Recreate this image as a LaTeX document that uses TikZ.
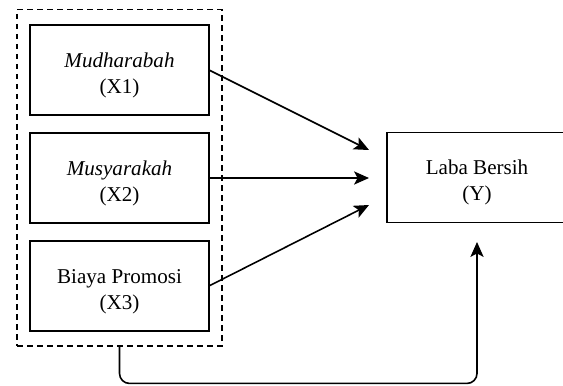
\documentclass[tikz,border=0pt]{standalone}
\usepackage{fontspec}
\setmainfont{Liberation Serif}
\usepackage{tikz}
\usetikzlibrary{positioning,fit,arrows.meta}
\newcommand{\topgap}{\rule{0pt}{14pt}}

\begin{document}
\begin{tikzpicture}[x=0.02cm, y=-0.02cm,
    var/.style={draw, line width=1pt, outer sep=0pt, minimum width=3.58cm, minimum height=1.8cm, align=center, font=\fontsize{12}{14.8}\selectfont},
    link/.style={line width=0.9pt, -{Stealth[length=8.5pt,width=7.5pt,inset=2pt]}}]
    \useasboundingbox (0,0) rectangle (563,385);

    % Independent variables
    \node[var] (x1) at (119.5,70) {\topgap\textit{Mudharabah}\\(X1)};
    \node[var, below=0.36cm of x1] (x2) {\topgap\textit{Musyarakah}\\(X2)};
    \node[var, below=0.36cm of x2] (x3) {\topgap Biaya Promosi\\(X3)};
    \node[draw, line width=1.1pt, dash pattern=on 3.2pt off 2.5pt, inner xsep=0.26cm, inner ysep=0.31cm, outer sep=0pt, fit=(x1)(x3)] (grp) {};

    % Dependent variable
    \node[var, minimum width=3.6cm] (y) at (477,177.5) {\topgap Laba Bersih\\(Y)};

    % Partial effects
    \coordinate (t1) at (369,150);
    \coordinate (t2) at (369,178);
    \coordinate (t3) at (369,205);
    \draw[link] (x1.east) -- (t1);
    \draw[link] (x2.east) -- (t2);
    \draw[link] (x3.east) -- (t3);

    % Simultaneous effect
    \coordinate (t4) at (477,242);
    \draw[link, rounded corners=0.2cm] (grp.south) -- ++(0,37) -| (t4);
\end{tikzpicture}
\end{document}
